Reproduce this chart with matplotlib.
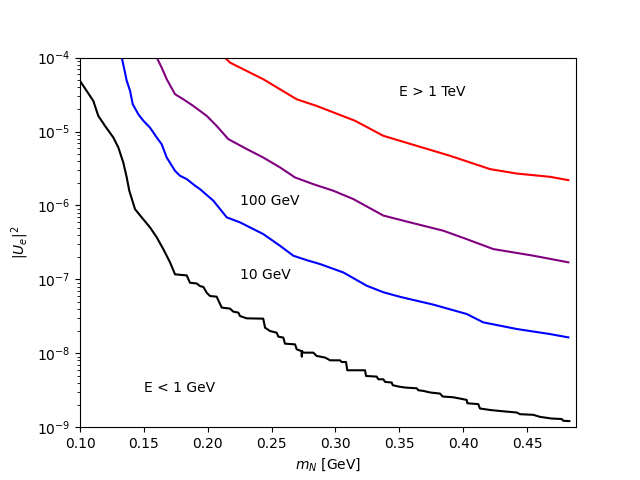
import numpy as np
import matplotlib
matplotlib.use('Agg')
import matplotlib.pyplot as plt

# E < 1 GeV
m_low = [0.1000, 0.1052, 0.1104, 0.1143, 0.1196, 0.1261, 0.1300, 0.1339, 0.1366, 0.1386,
         0.1431, 0.1483, 0.1548, 0.1601, 0.1652, 0.1705, 0.1744, 0.1836, 0.1861, 0.1914,
         0.1940, 0.1966, 0.1992, 0.2018, 0.2070, 0.2110, 0.2175, 0.2200, 0.2240, 0.2253,
         0.2305, 0.2435, 0.2449, 0.2488, 0.2540, 0.2553, 0.2592, 0.2605, 0.2684, 0.2697,
         0.2736, 0.2737, 0.2738, 0.2749, 0.2827, 0.2853, 0.2919, 0.2944, 0.2958, 0.3036,
         0.3049, 0.3083, 0.3093, 0.3232, 0.3240, 0.3323, 0.3336, 0.3375, 0.3389, 0.3441,
         0.3449, 0.3493, 0.3545, 0.3637, 0.3649, 0.3688, 0.3741, 0.3819, 0.3840, 0.3923,
         0.3976, 0.4028, 0.4033, 0.4119, 0.4132, 0.4211, 0.4315, 0.4420, 0.4446, 0.4550,
         0.4602, 0.4694, 0.4772, 0.4785, 0.4832]
U_low = [4.85e-5, 3.55e-5, 2.6e-5, 1.63e-5, 1.19e-5, 8.3e-6, 6.1e-6, 3.8e-6, 2.39e-6, 1.58e-6,
         8.9e-7, 6.9e-7, 5.05e-7, 3.7e-7, 2.57e-7, 1.70e-7, 1.17e-7, 1.13e-7, 9.0e-8, 8.8e-8,
         8.1e-8, 7.9e-8, 6.6e-8, 5.95e-8, 5.83e-8, 4.15e-8, 4.02e-8, 3.66e-8, 3.55e-8, 3.19e-8,
         2.97e-8, 2.94e-8, 2.22e-8, 2.00e-8, 1.90e-8, 1.68e-8, 1.63e-8, 1.35e-8, 1.32e-8, 1.13e-8,
         1.07e-8, 9.0e-9, 1.07e-8, 1.02e-8, 1.02e-8, 9.2e-9, 8.75e-9, 8.3e-9, 8.03e-9, 8.03e-9,
         7.62e-9, 7.62e-9, 5.89e-9, 5.89e-9, 4.93e-9, 4.84e-9, 4.45e-9, 4.45e-9, 4.10e-9, 4.02e-9,
         3.70e-9, 3.55e-9, 3.44e-9, 3.36e-9, 3.16e-9, 3.10e-9, 2.95e-9, 2.85e-9, 2.60e-9, 2.54e-9,
         2.44e-9, 2.34e-9, 2.11e-9, 2.05e-9, 1.79e-9, 1.71e-9, 1.64e-9, 1.58e-9, 1.50e-9, 1.47e-9,
         1.38e-9, 1.31e-9, 1.29e-9, 1.22e-9, 1.21e-9]

# 10 GeV
m_10 = [0.1327, 0.1347, 0.1366, 0.1392, 0.1413, 0.1457, 0.1496, 0.1548, 0.1601, 0.1640,
        0.1679, 0.1744, 0.1783, 0.1836, 0.1901, 0.1940, 0.2044, 0.2149, 0.2253, 0.2435,
        0.2566, 0.2670, 0.2775, 0.2880, 0.3062, 0.3153, 0.3245, 0.3375, 0.3506, 0.3767,
        0.4028, 0.4158, 0.4420, 0.4680, 0.4824]
U_10 = [1e-4, 6.95e-5, 4.85e-5, 3.55e-5, 2.34e-5, 1.71e-5, 1.40e-5, 1.13e-5, 8.3e-6, 6.7e-6,
        4.45e-6, 2.94e-6, 2.52e-6, 2.27e-6, 1.85e-6, 1.66e-6, 1.16e-6, 6.9e-7, 5.9e-7, 4.1e-7,
        2.85e-7, 2.09e-7, 1.82e-7, 1.61e-7, 1.24e-7, 1.01e-7, 8.2e-8, 6.7e-8, 5.8e-8, 4.55e-8,
        3.4e-8, 2.62e-8, 2.13e-8, 1.82e-8, 1.64e-8]

# 100 GeV
m_100 = [0.1601, 0.1640, 0.1679, 0.1744, 0.1809, 0.1887, 0.1940, 0.1992, 0.2070, 0.2161,
         0.2305, 0.2435, 0.2566, 0.2684, 0.2827, 0.2984, 0.3140, 0.3375, 0.3584, 0.3845,
         0.4028, 0.4236, 0.4550, 0.4824]
U_100 = [1e-4, 7.3e-5, 5.1e-5, 3.2e-5, 2.73e-5, 2.22e-5, 1.9e-5, 1.63e-5, 1.19e-5, 7.9e-6,
         5.8e-6, 4.45e-6, 3.27e-6, 2.39e-6, 1.94e-6, 1.58e-6, 1.22e-6, 7.3e-7, 5.9e-7, 4.55e-7,
         3.5e-7, 2.57e-7, 2.09e-7, 1.70e-7]

# E > 1 TeV
m_tev = [0.2135, 0.2175, 0.2305, 0.2435, 0.2566, 0.2697, 0.2853, 0.3153, 0.3375, 0.3637,
         0.3897, 0.4211, 0.4420, 0.4680, 0.4824]
U_tev = [1e-4, 8.55e-5, 6.6e-5, 5.1e-5, 3.73e-5, 2.73e-5, 2.22e-5, 1.40e-5, 8.75e-6, 6.4e-6,
         4.7e-6, 3.1e-6, 2.7e-6, 2.44e-6, 2.2e-6]

plt.figure(figsize=(6.4, 4.8))

plt.plot(m_low, U_low, color='black')
plt.plot(m_10, U_10, color='blue')
plt.plot(m_100, U_100, color='purple')
plt.plot(m_tev, U_tev, color='red')

plt.text(0.35, 3e-5, 'E > 1 TeV')
plt.text(0.225, 1e-6, '100 GeV')
plt.text(0.225, 1e-7, '10 GeV')
plt.text(0.15, 3e-9, 'E < 1 GeV')

plt.yscale('log')
plt.xlim([0.1, 0.4884])
plt.ylim([1e-9, 1e-4])
plt.xlabel(r'$m_N$ [GeV]')
plt.ylabel(r'$|U_e|^2$')

plt.savefig('out.png', dpi=100)
